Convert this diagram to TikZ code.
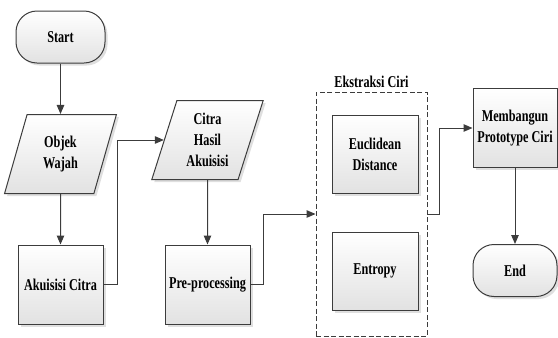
\documentclass[tikz,border=0pt]{standalone}
\usepackage{fontspec}
\setmainfont[FakeStretch=0.74]{Liberation Serif}
\usetikzlibrary{positioning,arrows.meta,shapes.geometric,shadows}
\definecolor{lineC}{HTML}{3C3C3C}
\definecolor{boxC}{HTML}{E2E2E2}

\begin{document}
\begin{tikzpicture}[x=1pt,y=-1pt,
  every node/.style={font=\fontsize{16.5}{21}\selectfont\bfseries,align=center,text=black},
  shaded box/.style={draw=lineC,line width=1pt,top color=white,bottom color=boxC,
    drop shadow={shadow xshift=2.5pt,shadow yshift=-2.5pt,fill=black!18,opacity=.7}},
  proc/.style={shaded box,rectangle,minimum width=85pt,minimum height=79pt,inner sep=2pt},
  term/.style={shaded box,rectangle,rounded corners=21pt,minimum width=89pt,minimum height=52pt},
  io/.style={shaded box,trapezium,trapezium left angle=72,trapezium right angle=108,
    trapezium stretches=true,minimum width=112pt,minimum height=79pt,inner sep=1pt},
  flow/.style={draw=lineC,line width=1pt,-{Triangle[length=9pt,width=7.5pt]}}]
  \useasboundingbox (0,0) rectangle (558,338);

  % left column
  \node[term] (start) at (60.5,37) {Start};
  \node[io] (objek) at (60.5,154) {Objek\\Wajah};
  \node[proc] (akuisisi) at (60.5,284.5) {Akuisisi Citra};

  % second column
  \node[io] (citra) at (207.5,140) {Citra\\Hasil\\Akuisisi};
  \node[proc] (pre) at (207.5,284.5) {Pre-processing};

  % feature extraction group
  \node[draw=lineC,dash pattern=on 5pt off 2.5pt,line width=0.9pt,minimum width=111pt,minimum height=244pt] (ekstraksi) at (371.5,214) {};
  \node[above=0pt of ekstraksi] (ekstraksilabel) {Ekstraksi Ciri};
  \node[proc,minimum width=86pt,minimum height=78pt] (euclid) at (375,154) {Euclidean\\Distance};
  \node[proc,minimum width=86pt,minimum height=78pt] (entropy) at (375,271) {Entropy};

  % right column
  \node[proc,minimum width=84pt] (membangun) at (515,128) {Membangun\\Prototype Ciri};
  \node[term,minimum width=84pt] (end) at (515,270.5) {End};

  % connectors
  \draw[flow] (start) -- (objek);
  \draw[flow] (objek) -- (akuisisi);
  \draw[flow] (akuisisi.east) -- ++(14,0) |- (citra.west);
  \draw[flow] (citra) -- (pre);
  \draw[flow] (pre.east) -- ++(13,0) |- (ekstraksi.west);
  \draw[flow] (ekstraksi.east) -- ++(12,0) |- (membangun.west);
  \draw[flow] (membangun) -- (end);
\end{tikzpicture}
\end{document}
